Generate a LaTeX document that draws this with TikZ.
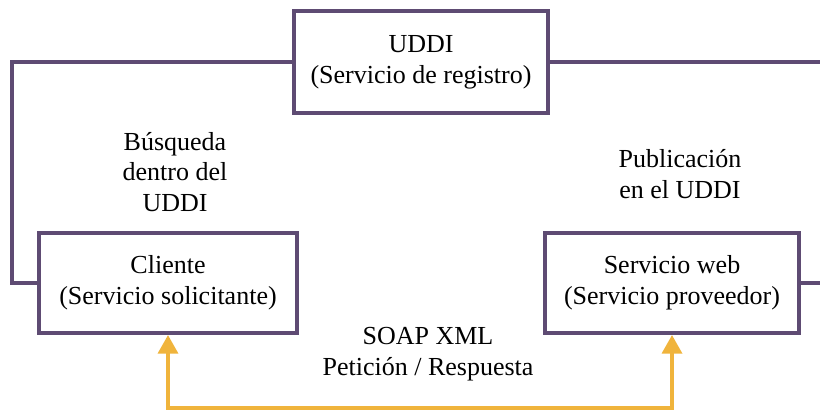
\documentclass[tikz,border=0pt]{standalone}
\usepackage{fontspec}
\setmainfont{Liberation Serif}
\usetikzlibrary{arrows.meta}
\definecolor{morado}{HTML}{5E4B73}
\definecolor{ambar}{HTML}{F0B43C}
\tikzset{
  caja/.style={draw=morado, line width=3pt, minimum width=#1, minimum height=75pt, align=center},
  enlace/.style={draw=morado, line width=2.4pt},
  soap/.style={draw=ambar, line width=2.6pt, {Triangle[width=15pt,length=14pt]}-{Triangle[width=15pt,length=14pt]}},
  etiqueta/.style={align=center}
}
\begin{document}
\begin{tikzpicture}[x=0.75pt, y=-0.75pt, font=\fontsize{19.5}{23}\selectfont]
\useasboundingbox (0,0) rectangle (820,413);
\node[caja=190pt, minimum height=77pt] (uddi) at (421,62) {UDDI\\(Servicio de registro)};
\node[caja=193pt] (cli) at (168,283) {Cliente\\(Servicio solicitante)};
\node[caja=191pt] (web) at (672,283) {Servicio web\\(Servicio proveedor)};
\coordinate (izq) at (12,62);
\coordinate (der1) at (820,62);
\coordinate (der2) at (820,283);
\coordinate (abajo) at (420,408);
\draw[enlace] (uddi.west) -- (izq) |- (cli.west);
\draw[enlace] (uddi.east) -- (der1);
\draw[enlace] (web.east) -- (der2);
\draw[soap] (cli.south) |- (abajo) -| (web.south);
\node[etiqueta] (busq) at (175,172) {Búsqueda\\dentro del\\UDDI};
\node[etiqueta] (publ) at (680,174) {Publicación\\en el UDDI};
\node[etiqueta] (msg) at (428,354) {SOAP XML\\Petición / Respuesta};
\end{tikzpicture}
\end{document}
